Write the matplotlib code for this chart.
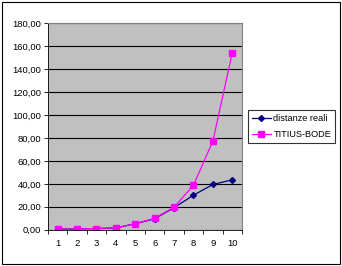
import matplotlib
matplotlib.use("Agg")
import matplotlib.pyplot as plt
from matplotlib.patches import Rectangle
from matplotlib.ticker import FuncFormatter

plt.rcParams["font.family"] = ["Liberation Sans", "DejaVu Sans"]

planets = [1, 2, 3, 4, 5, 6, 7, 8, 9, 10]
real_dist = [0.39, 0.72, 1.00, 1.52, 5.20, 9.54, 19.20, 30.06, 39.44, 43.50]
titius_bode = [0.40, 0.70, 1.00, 1.60, 5.20, 10.00, 19.60, 38.80, 77.20, 154.00]
y_ticks = [0, 20, 40, 60, 80, 100, 120, 140, 160, 180]

fig = plt.figure(figsize=(3.42, 2.66), dpi=100)
fig.patches.append(Rectangle((0.006, 0.006), 0.988, 0.988, transform=fig.transFigure,
                             fill=False, edgecolor="black", linewidth=0.8))
ax = fig.add_axes([0.1404, 0.1365, 0.567, 0.776])
ax.set_facecolor("#c0c0c0")

ax.plot(planets, real_dist, "-D", color="#000080", markersize=3, linewidth=0.9,
        label="distanze reali")
ax.plot(planets, titius_bode, "-s", color="#ff00ff", markersize=4, linewidth=0.9,
        label="TITIUS-BODE")

ax.set_xlim(0.5, 10.5)
ax.set_ylim(0, 180)
ax.set_yticks(y_ticks)
ax.yaxis.set_major_formatter(FuncFormatter(lambda v, p: f"{v:.2f}".replace(".", ",")))
ax.set_xticks(planets)
ax.set_xticks([i + 0.5 for i in range(0, 11)], minor=True)
ax.tick_params(axis="x", which="major", length=0, labelsize=6.8, pad=7)
ax.tick_params(axis="x", which="minor", length=3, width=0.6)
ax.tick_params(axis="y", length=3, width=0.6, labelsize=6.8, pad=2)
ax.grid(axis="y", color="black", linewidth=0.8)
ax.set_axisbelow(True)
for side in ["top", "right"]:
    ax.spines[side].set_color("#808080")
    ax.spines[side].set_linewidth(0.8)
for side in ["left", "bottom"]:
    ax.spines[side].set_linewidth(0.6)

leg = fig.legend(loc="center", bbox_to_anchor=(0.853, 0.524), fontsize=6.6,
                 frameon=True, fancybox=False, edgecolor="black",
                 handlelength=2.0, borderpad=0.45, labelspacing=0.7,
                 handletextpad=0.3)
leg.get_frame().set_linewidth(0.8)

fig.savefig("out.png", dpi=100)
